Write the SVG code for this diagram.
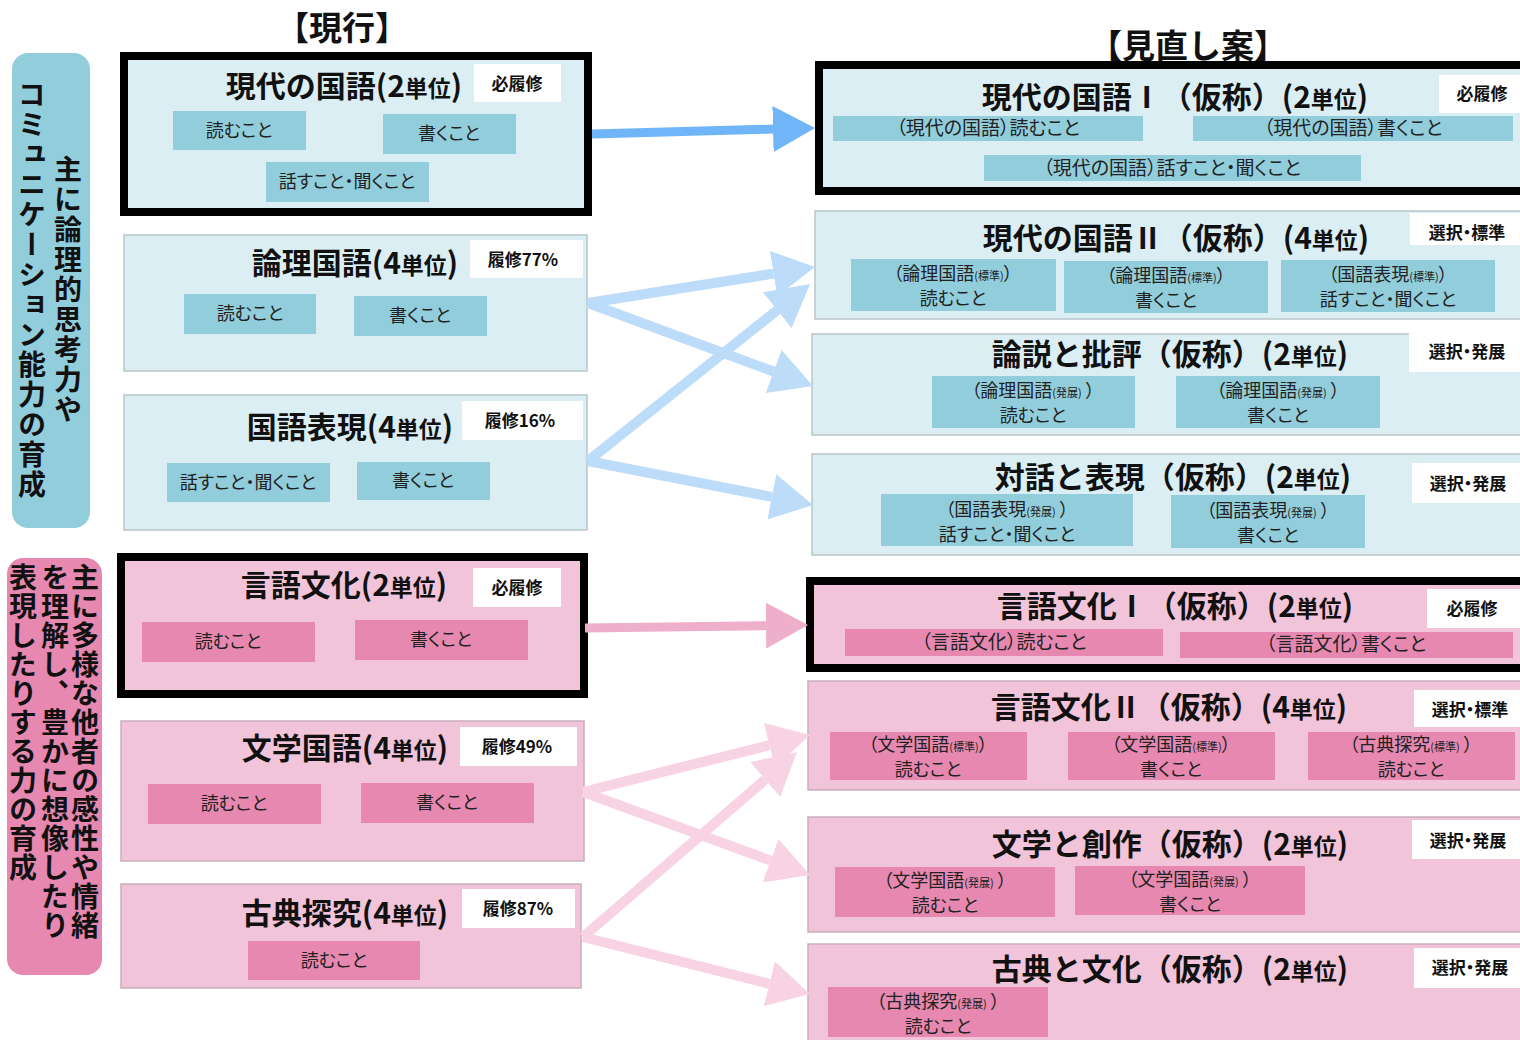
<svg xmlns="http://www.w3.org/2000/svg" width="1520" height="1040" viewBox="0 0 1520 1040">
<style>
text{font-family:"Noto Sans CJK JP","Noto Sans",sans-serif;fill:#111}
.bb{fill:#daeef3;stroke:#b9c6ca;stroke-width:1.5}
.pb{fill:#f2c4d9;stroke:#c9aebb;stroke-width:1.5}
.thick{stroke:#000;stroke-width:8}
.bs{fill:#92cddc}
.ps{fill:#e688b0}
.badge{fill:#fff}
.hd{font-weight:700;font-size:33px;text-anchor:middle}
.ti{font-weight:700;font-size:30px;text-anchor:middle}
.sm{font-size:23px}
.bt{font-weight:700;font-size:17px;text-anchor:middle;font-feature-settings:"palt"}
.st{font-size:18px;text-anchor:middle;fill:#222;font-feature-settings:"palt"}
.rt{font-size:19px;text-anchor:middle;fill:#222;font-feature-settings:"palt"}
.r2{font-size:18px;text-anchor:middle;fill:#222;font-feature-settings:"palt"}
.tiny{font-size:11px}
.vt{writing-mode:vertical-rl;font-weight:700;font-size:28px;letter-spacing:2px}
.vp{writing-mode:vertical-rl;font-weight:700;font-size:28px;letter-spacing:1px}
</style>
<defs>
<marker id="hDark" markerUnits="userSpaceOnUse" markerWidth="42" markerHeight="46" viewBox="0 0 42 46" refX="0" refY="23" orient="auto"><path d="M0,0 L42,23 L0,46 z" fill="#6fb5f8"/></marker>
<marker id="hLight" markerUnits="userSpaceOnUse" markerWidth="42" markerHeight="46" viewBox="0 0 42 46" refX="0" refY="23" orient="auto"><path d="M0,0 L42,23 L0,46 z" fill="#bddcfa"/></marker>
<marker id="hPink" markerUnits="userSpaceOnUse" markerWidth="42" markerHeight="46" viewBox="0 0 42 46" refX="0" refY="23" orient="auto"><path d="M0,0 L42,23 L0,46 z" fill="#eeafcb"/></marker>
<marker id="hPinkL" markerUnits="userSpaceOnUse" markerWidth="42" markerHeight="46" viewBox="0 0 42 46" refX="0" refY="23" orient="auto"><path d="M0,0 L42,23 L0,46 z" fill="#f7d3e4"/></marker>
</defs>
<rect width="1520" height="1040" fill="#fff"/>

<g id="headers">
<text class="hd" x="342" y="40">【現行】</text>
<text class="hd" x="1188" y="58">【見直し案】</text>
</g>

<g id="label-blue">
<rect x="12" y="53" width="78" height="475" rx="16" fill="#92cddc"/>
<text class="vt" x="32" y="80">コミュニケーション能力の育成</text>
<text class="vt" x="68" y="155">主に論理的思考力や</text>
</g>

<g id="label-pink">
<rect x="7" y="558" width="95" height="417" rx="16" fill="#e688b0"/>
<text class="vp" x="85" y="563">主に多様な他者の感性や情緒</text>
<text class="vp" x="55" y="563">を理解し、豊かに想像したり</text>
<text class="vp" x="23" y="563">表現したりする力の育成</text>
</g>

<g id="cur-gendai">
<rect class="bb thick" x="124" y="56" width="464" height="156"/>
<rect class="badge" x="474" y="64" width="87" height="38"/>
<text class="bt" x="517" y="90">必履修</text>
<text class="ti" x="344" y="97">現代の国語(2<tspan class="sm">単位</tspan>)</text>
<rect class="bs" x="173" y="111" width="133" height="39"/><text class="st" x="239" y="137">読むこと</text>
<rect class="bs" x="383" y="114" width="133" height="40"/><text class="st" x="449" y="140">書くこと</text>
<rect class="bs" x="266" y="162" width="163" height="40"/><text class="st" x="347" y="188">話すこと・聞くこと</text>
</g>

<g id="cur-ronri">
<rect class="bb" x="124" y="235" width="463" height="136"/>
<rect class="badge" x="470" y="240" width="113" height="38"/>
<text class="bt" x="523" y="266">履修77%</text>
<text class="ti" x="355" y="274">論理国語(4<tspan class="sm">単位</tspan>)</text>
<rect class="bs" x="184" y="294" width="132" height="40"/><text class="st" x="250" y="320">読むこと</text>
<rect class="bs" x="354" y="296" width="133" height="40"/><text class="st" x="420" y="322">書くこと</text>
</g>

<g id="cur-hyogen">
<rect class="bb" x="124" y="395" width="463" height="135"/>
<rect class="badge" x="462" y="401" width="121" height="39"/>
<text class="bt" x="520" y="427">履修16%</text>
<text class="ti" x="350" y="438">国語表現(4<tspan class="sm">単位</tspan>)</text>
<rect class="bs" x="167" y="463" width="163" height="39"/><text class="st" x="248" y="489">話すこと・聞くこと</text>
<rect class="bs" x="357" y="462" width="133" height="38"/><text class="st" x="423" y="487">書くこと</text>
</g>

<g id="cur-gengo">
<rect class="pb thick" x="121" y="557" width="463" height="137"/>
<rect class="badge" x="473" y="568" width="88" height="39"/>
<text class="bt" x="517" y="594">必履修</text>
<text class="ti" x="344" y="596">言語文化(2<tspan class="sm">単位</tspan>)</text>
<rect class="ps" x="142" y="622" width="173" height="40"/><text class="st" x="228" y="648">読むこと</text>
<rect class="ps" x="355" y="620" width="173" height="40"/><text class="st" x="441" y="646">書くこと</text>
</g>

<g id="cur-bungaku">
<rect class="pb" x="121" y="721" width="463" height="140"/>
<rect class="badge" x="460" y="727" width="117" height="39"/>
<text class="bt" x="517" y="753">履修49%</text>
<text class="ti" x="345" y="759">文学国語(4<tspan class="sm">単位</tspan>)</text>
<rect class="ps" x="148" y="784" width="173" height="40"/><text class="st" x="234" y="810">読むこと</text>
<rect class="ps" x="361" y="783" width="173" height="40"/><text class="st" x="447" y="809">書くこと</text>
</g>

<g id="cur-koten">
<rect class="pb" x="121" y="884" width="460" height="104"/>
<rect class="badge" x="462" y="889" width="113" height="39"/>
<text class="bt" x="518" y="915">履修87%</text>
<text class="ti" x="345" y="924">古典探究(4<tspan class="sm">単位</tspan>)</text>
<rect class="ps" x="248" y="941" width="172" height="39"/><text class="st" x="334" y="967">読むこと</text>
</g>

<g id="new-gendai1">
<rect class="bb thick" x="819" y="65" width="710" height="126"/>
<text class="ti" x="1175" y="108">現代の国語Ⅰ（仮称）(2<tspan class="sm">単位</tspan>)</text>
<rect class="badge" x="1439" y="75" width="85" height="38"/>
<text class="bt" x="1482" y="100">必履修</text>
<rect class="bs" x="833" y="116" width="310" height="25"/><text class="rt" x="988" y="135">（現代の国語）読むこと</text>
<rect class="bs" x="1193" y="116" width="320" height="25"/><text class="rt" x="1353" y="135">（現代の国語）書くこと</text>
<rect class="bs" x="984" y="155" width="377" height="26"/><text class="rt" x="1172" y="175">（現代の国語）話すこと・聞くこと</text>
</g>

<g id="new-gendai2">
<rect class="bb" x="815" y="211" width="710" height="108"/>
<text class="ti" x="1176" y="249">現代の国語Ⅱ（仮称）(4<tspan class="sm">単位</tspan>)</text>
<rect class="badge" x="1410" y="213" width="115" height="32"/>
<text class="bt" x="1467" y="239">選択・標準</text>
<rect class="bs" x="851" y="259" width="205" height="52"/>
<text class="r2" x="953" y="280">（論理国語<tspan class="tiny">(標準)</tspan>）</text><text class="r2" x="953" y="305">読むこと</text>
<rect class="bs" x="1064" y="261" width="204" height="52"/>
<text class="r2" x="1166" y="282">（論理国語<tspan class="tiny">(標準)</tspan>）</text><text class="r2" x="1166" y="307">書くこと</text>
<rect class="bs" x="1281" y="260" width="214" height="52"/>
<text class="r2" x="1388" y="281">（国語表現<tspan class="tiny">(標準)</tspan>）</text><text class="r2" x="1388" y="306">話すこと・聞くこと</text>
</g>

<g id="new-ronsetsu">
<rect class="bb" x="812" y="334" width="713" height="101"/>
<text class="ti" x="1170" y="365">論説と批評（仮称）(2<tspan class="sm">単位</tspan>)</text>
<rect class="badge" x="1409" y="331" width="115" height="41"/>
<text class="bt" x="1467" y="358">選択・発展</text>
<rect class="bs" x="932" y="376" width="203" height="52"/>
<text class="r2" x="1033" y="397">（論理国語<tspan class="tiny">(発展)</tspan> ）</text><text class="r2" x="1033" y="422">読むこと</text>
<rect class="bs" x="1176" y="376" width="204" height="52"/>
<text class="r2" x="1278" y="397">（論理国語<tspan class="tiny">(発展)</tspan> ）</text><text class="r2" x="1278" y="422">書くこと</text>
</g>

<g id="new-taiwa">
<rect class="bb" x="812" y="454" width="713" height="101"/>
<text class="ti" x="1173" y="488">対話と表現（仮称）(2<tspan class="sm">単位</tspan>)</text>
<rect class="badge" x="1412" y="463" width="112" height="40"/>
<text class="bt" x="1468" y="490">選択・発展</text>
<rect class="bs" x="881" y="494" width="252" height="52"/>
<text class="r2" x="1007" y="516">（国語表現<tspan class="tiny">(発展)</tspan> ）</text><text class="r2" x="1007" y="541">話すこと・聞くこと</text>
<rect class="bs" x="1171" y="495" width="194" height="53"/>
<text class="r2" x="1268" y="517">（国語表現<tspan class="tiny">(発展)</tspan> ）</text><text class="r2" x="1268" y="542">書くこと</text>
</g>

<g id="new-gengo1">
<rect class="pb thick" x="810" y="581" width="720" height="87"/>
<text class="ti" x="1175" y="617">言語文化Ⅰ（仮称）(2<tspan class="sm">単位</tspan>)</text>
<rect class="badge" x="1427" y="589" width="97" height="39"/>
<text class="bt" x="1472" y="615">必履修</text>
<rect class="ps" x="845" y="629" width="318" height="27"/><text class="rt" x="1004" y="649">（言語文化）読むこと</text>
<rect class="ps" x="1180" y="632" width="333" height="26"/><text class="rt" x="1346" y="651">（言語文化）書くこと</text>
</g>

<g id="new-gengo2">
<rect class="pb" x="808" y="681" width="717" height="109"/>
<text class="ti" x="1169" y="718">言語文化Ⅱ（仮称）(4<tspan class="sm">単位</tspan>)</text>
<rect class="badge" x="1414" y="690" width="110" height="37"/>
<text class="bt" x="1470" y="716">選択・標準</text>
<rect class="ps" x="830" y="732" width="197" height="48"/>
<text class="r2" x="928" y="751">（文学国語<tspan class="tiny">(標準)</tspan>）</text><text class="r2" x="928" y="776">読むこと</text>
<rect class="ps" x="1068" y="732" width="207" height="48"/>
<text class="r2" x="1171" y="751">（文学国語<tspan class="tiny">(標準)</tspan>）</text><text class="r2" x="1171" y="776">書くこと</text>
<rect class="ps" x="1308" y="732" width="207" height="48"/>
<text class="r2" x="1411" y="751">（古典探究<tspan class="tiny">(標準)</tspan> ）</text><text class="r2" x="1411" y="776">読むこと</text>
</g>

<g id="new-bungaku">
<rect class="pb" x="808" y="817" width="717" height="115"/>
<text class="ti" x="1170" y="855">文学と創作（仮称）(2<tspan class="sm">単位</tspan>)</text>
<rect class="badge" x="1412" y="820" width="112" height="39"/>
<text class="bt" x="1468" y="847">選択・発展</text>
<rect class="ps" x="835" y="867" width="220" height="50"/>
<text class="r2" x="945" y="887">（文学国語<tspan class="tiny">(発展)</tspan> ）</text><text class="r2" x="945" y="912">読むこと</text>
<rect class="ps" x="1075" y="866" width="230" height="49"/>
<text class="r2" x="1190" y="886">（文学国語<tspan class="tiny">(発展)</tspan> ）</text><text class="r2" x="1190" y="911">書くこと</text>
</g>

<g id="new-koten">
<rect class="pb" x="808" y="944" width="717" height="100"/>
<text class="ti" x="1170" y="980">古典と文化（仮称）(2<tspan class="sm">単位</tspan>)</text>
<rect class="badge" x="1414" y="948" width="110" height="40"/>
<text class="bt" x="1470" y="974">選択・発展</text>
<rect class="ps" x="828" y="987" width="220" height="50"/>
<text class="r2" x="938" y="1008">（古典探究<tspan class="tiny">(発展)</tspan> ）</text><text class="r2" x="938" y="1033">読むこと</text>
</g>

<g id="connectors" fill="none" stroke-linecap="butt">
<line x1="592" y1="134" x2="773" y2="129.1" stroke="#6fb5f8" stroke-width="9" marker-end="url(#hDark)"/>
<line x1="588" y1="303" x2="773.5" y2="273.6" stroke="#bddcfa" stroke-width="10" marker-end="url(#hLight)"/>
<line x1="588" y1="303" x2="773.6" y2="371.5" stroke="#bddcfa" stroke-width="10" marker-end="url(#hLight)"/>
<line x1="588" y1="461" x2="777.2" y2="310.2" stroke="#bddcfa" stroke-width="10" marker-end="url(#hLight)"/>
<line x1="588" y1="461" x2="771.8" y2="496.9" stroke="#bddcfa" stroke-width="10" marker-end="url(#hLight)"/>
<line x1="585" y1="628" x2="766" y2="625.6" stroke="#eeafcb" stroke-width="9" marker-end="url(#hPink)"/>
<line x1="583" y1="792" x2="769.3" y2="745.2" stroke="#f7d3e4" stroke-width="10" marker-end="url(#hPinkL)"/>
<line x1="583" y1="792" x2="770.6" y2="860.6" stroke="#f7d3e4" stroke-width="10" marker-end="url(#hPinkL)"/>
<line x1="583" y1="937" x2="765.2" y2="779.5" stroke="#f7d3e4" stroke-width="10" marker-end="url(#hPinkL)"/>
<line x1="583" y1="937" x2="769.3" y2="983.8" stroke="#f7d3e4" stroke-width="10" marker-end="url(#hPinkL)"/>
</g>
</svg>
